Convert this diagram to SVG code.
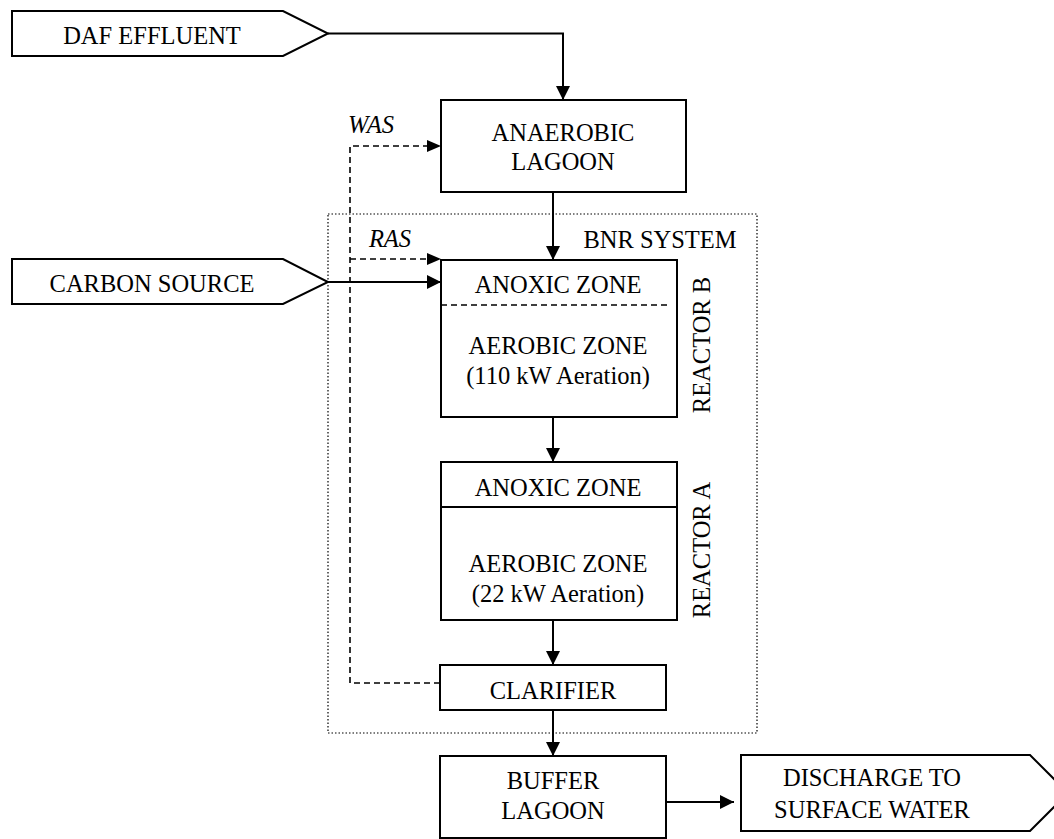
<svg xmlns="http://www.w3.org/2000/svg" width="1054" height="839" viewBox="0 0 1054 839">
<defs>
<marker id="ahb" viewBox="0 0 14 14" refX="14" refY="7" markerWidth="14" markerHeight="14" markerUnits="userSpaceOnUse" orient="auto">
<path d="M0,0 L14,7 L0,14 Z" fill="#000"/>
</marker>
</defs>
<style>
.box{fill:#fff;stroke:#000;stroke-width:2}
.t{font-family:"Liberation Serif","Times New Roman",serif;font-size:24.5px;fill:#000;text-anchor:middle}
.i{font-style:italic}
.ln{fill:none;stroke:#000;stroke-width:2}
.ds{fill:none;stroke:#000;stroke-width:1.6;stroke-dasharray:6,4}
.dot{fill:none;stroke:#000;stroke-width:1.2;stroke-dasharray:1.5,2}
</style>
<rect width="1054" height="839" fill="#fff"/>
<g id="bnr-system">
<rect class="dot" x="328" y="214" width="429" height="519"/>
<text class="t" x="660" y="248">BNR SYSTEM</text>
</g>
<g id="daf-effluent">
<path class="box" d="M12,11 L283,11 L328,33.5 L283,56 L12,56 Z"/>
<text class="t" x="152" y="44">DAF EFFLUENT</text>
</g>
<g id="carbon-source">
<path class="box" d="M12,259 L283,259 L328,282 L283,304 L12,304 Z"/>
<text class="t" x="152" y="292">CARBON SOURCE</text>
</g>
<g id="anaerobic-lagoon">
<rect class="box" x="441" y="100" width="245" height="92"/>
<text class="t" x="563" y="141">ANAEROBIC</text>
<text class="t" x="563" y="170">LAGOON</text>
</g>
<g id="reactor-b">
<rect class="box" x="441" y="260" width="236" height="157"/>
<line x1="441" y1="305" x2="668" y2="305" stroke="#000" stroke-width="1.6" stroke-dasharray="6,4"/>
<text class="t" x="558" y="293">ANOXIC ZONE</text>
<text class="t" x="558" y="354">AEROBIC ZONE</text>
<text class="t" x="558" y="384">(110 kW Aeration)</text>
<text class="t" transform="translate(710,345) rotate(-90)">REACTOR B</text>
</g>
<g id="reactor-a">
<rect class="box" x="441" y="462" width="236" height="158"/>
<line x1="441" y1="507" x2="677" y2="507" stroke="#000" stroke-width="2"/>
<text class="t" x="558" y="496">ANOXIC ZONE</text>
<text class="t" x="558" y="572">AEROBIC ZONE</text>
<text class="t" x="558" y="602">(22 kW Aeration)</text>
<text class="t" transform="translate(710,550) rotate(-90)">REACTOR A</text>
</g>
<g id="clarifier">
<rect class="box" x="440" y="665" width="226" height="45"/>
<text class="t" x="553" y="699">CLARIFIER</text>
</g>
<g id="buffer-lagoon">
<rect class="box" x="440" y="756" width="226" height="82"/>
<text class="t" x="553" y="789">BUFFER</text>
<text class="t" x="553" y="819">LAGOON</text>
</g>
<g id="discharge">
<path class="box" d="M741,755 L1030,755 L1068,793 L1030,831 L741,831 Z"/>
<text class="t" x="872" y="786">DISCHARGE TO</text>
<text class="t" x="872" y="818">SURFACE WATER</text>
</g>
<g id="connectors">
<path class="ln" d="M328,33.5 L563,33.5 L563,100" marker-end="url(#ahb)"/>
<line class="ln" x1="553" y1="192" x2="553" y2="260" marker-end="url(#ahb)"/>
<line class="ln" x1="328" y1="282" x2="441" y2="282" marker-end="url(#ahb)"/>
<line class="ln" x1="553" y1="417" x2="553" y2="462" marker-end="url(#ahb)"/>
<line class="ln" x1="553" y1="620" x2="553" y2="665" marker-end="url(#ahb)"/>
<line class="ln" x1="553" y1="710" x2="553" y2="756" marker-end="url(#ahb)"/>
<line class="ln" x1="666" y1="802" x2="734" y2="802" marker-end="url(#ahb)"/>
<path class="ds" d="M440,683 L350,683 L350,146 L428,146"/>
<path d="M427,140 L441,146 L427,152 Z" fill="#000"/>
<path class="ds" d="M350,259 L428,259"/>
<path d="M427,253 L441,259 L427,265 Z" fill="#000"/>
<text class="t i" x="371" y="133">WAS</text>
<text class="t i" x="390" y="247">RAS</text>
</g>
</svg>
